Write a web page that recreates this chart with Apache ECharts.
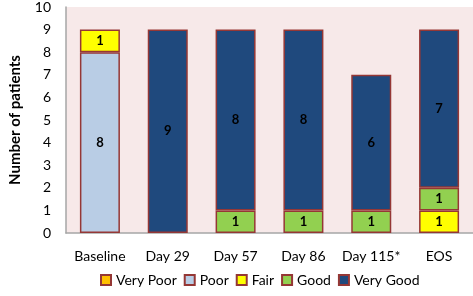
<!DOCTYPE html>
<html>
<head>
<meta charset="utf-8">
<script src="https://cdn.jsdelivr.net/npm/echarts@6/dist/echarts.min.js"></script>
<style>
  html, body { margin: 0; padding: 0; background: #fff; }
  #chart { width: 473px; height: 296px; }
</style>
</head>
<body>
<div id="chart"></div>
<script>
const categories = ['Baseline', 'Day 29', 'Day 57', 'Day 86', 'Day 115*', 'EOS']
const veryPoor = [0, 0, 0, 0, 0, 0]
const poor = [8, 0, 0, 0, 0, 0]
const fair = [1, 0, 0, 0, 0, 1]
const good = [0, 0, 1, 1, 1, 1]
const veryGood = [0, 9, 8, 8, 6, 7]

const font = 'Lato, "Open Sans", sans-serif'
const edge = '#953735'

// zeros become '-' so no empty border is drawn
const clean = (arr) => arr.map((v) => (v > 0 ? v : '-'))

const mkSeries = (name, data, color) => ({
  name: name,
  type: 'bar',
  stack: 'total',
  barWidth: 40,
  data: clean(data),
  itemStyle: { color: color, borderColor: edge, borderWidth: 1.5 },
  label: {
    show: true,
    position: 'inside',
    fontFamily: font,
    fontWeight: 'bold',
    fontSize: 13,
    color: '#000',
    formatter: ({ value }) => (value > 0 ? value : '')
  }
})

const chart = echarts.init(document.getElementById('chart'))
chart.setOption({
  animation: false,
  textStyle: { fontFamily: font },
  grid: {
    left: 51,
    right: 0,
    top: 6,
    bottom: 63,
    show: true,
    backgroundColor: '#f7e9e9',
    borderWidth: 0
  },
  legend: {
    bottom: 4,
    left: 95,
    itemWidth: 10,
    itemHeight: 10,
    itemGap: 7,
    icon: 'rect',
    textStyle: { fontFamily: font, fontSize: 14, color: '#000' },
    data: ['Very Poor', 'Poor', 'Fair', 'Good', 'Very Good']
  },
  xAxis: {
    type: 'category',
    data: categories,
    axisLine: { lineStyle: { color: '#a6a6a6', width: 1.5 } },
    axisTick: { show: false },
    axisLabel: { interval: 0, color: '#000', fontSize: 14, fontFamily: font, margin: 16 }
  },
  yAxis: {
    type: 'value',
    min: 0,
    max: 10,
    interval: 1,
    name: 'Number of patients',
    nameLocation: 'middle',
    nameGap: 43,
    nameTextStyle: { fontFamily: font, fontWeight: 'bold', fontSize: 15, color: '#000' },
    splitLine: { show: false },
    axisLine: { show: true, lineStyle: { color: '#a6a6a6', width: 1.5 } },
    axisTick: { show: false },
    axisLabel: { color: '#000', fontSize: 14, fontFamily: font, margin: 15 }
  },
  series: [
    mkSeries('Very Poor', veryPoor, '#ffc000'),
    mkSeries('Poor', poor, '#b9cde5'),
    mkSeries('Fair', fair, '#ffff00'),
    mkSeries('Good', good, '#92d050'),
    mkSeries('Very Good', veryGood, '#1f497d')
  ]
})
</script>
</body>
</html>
